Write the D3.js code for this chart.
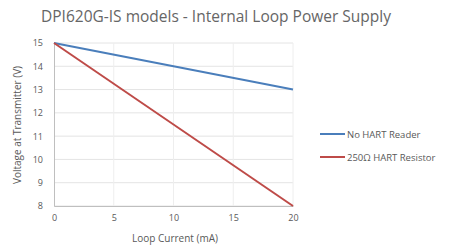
<!DOCTYPE html>
<html>
<head>
<meta charset="utf-8">
<script src="https://cdn.jsdelivr.net/npm/d3@7"></script>
<style>
  body { margin: 0; background: #fff; }
  text { font-family: "Open Sans", "Noto Sans", sans-serif; fill: #595959; }
</style>
</head>
<body>
<svg id="chart" width="454" height="246"></svg>
<script>
var current = [0, 20];
var noHart = [15, 13];
var hartResistor = [15, 8];
var xTicks = [0, 5, 10, 15, 20];
var yTicks = [8, 9, 10, 11, 12, 13, 14, 15];
var seriesNames = ["No HART Reader", "250Ω HART Resistor"];
var colours = ["#4a7ebb", "#be4b48"];

var svg = d3.select("#chart");
var x = d3.scaleLinear().domain([0, 20]).range([54, 293]);
var y = d3.scaleLinear().domain([8, 15]).range([206, 43]);

// grid
svg.append("g").selectAll("line").data(yTicks).enter().append("line")
    .attr("x1", x(0)).attr("x2", x(20))
    .attr("y1", d => y(d)).attr("y2", d => y(d))
    .attr("stroke", "#e4e4e4").attr("stroke-width", 1);
svg.append("g").selectAll("line").data(xTicks.slice(1)).enter().append("line")
    .attr("x1", d => x(d)).attr("x2", d => x(d))
    .attr("y1", y(8)).attr("y2", y(15))
    .attr("stroke", "#eeeeee").attr("stroke-width", 1);

// axes
var xAxis = svg.append("g").attr("transform", "translate(0," + y(8) + ")")
    .call(d3.axisBottom(x).tickValues(xTicks).tickFormat(d3.format("d")).tickSize(0).tickPadding(9));
var yAxis = svg.append("g").attr("transform", "translate(" + x(0) + ",0)")
    .call(d3.axisLeft(y).tickValues(yTicks).tickFormat(d3.format("d")).tickSize(0).tickPadding(11));
[xAxis, yAxis].forEach(a => {
    a.select(".domain").attr("stroke", "#bfbfbf");
    a.selectAll("text").style("font-size", "9px").style("font-family", "Open Sans, sans-serif").attr("fill", "#595959");
});

// lines
var line = d3.line().x((d, i) => x(current[i])).y(d => y(d));
[noHart, hartResistor].forEach((s, i) => {
    svg.append("path").attr("d", line(s))
        .attr("fill", "none").attr("stroke", colours[i]).attr("stroke-width", 2);
});

// legend
seriesNames.forEach((n, i) => {
    var ly = 134 + i * 23;
    svg.append("line").attr("x1", 320).attr("x2", 345).attr("y1", ly).attr("y2", ly)
        .attr("stroke", colours[i]).attr("stroke-width", 2);
    svg.append("text").attr("x", 347).attr("y", ly + 3.5)
        .style("font-size", "9.5px").text(n);
});

// titles
svg.append("text").attr("x", 216).attr("y", 22).attr("text-anchor", "middle")
    .style("font-size", "15.5px").style("fill", "#666").text("DPI620G-IS models - Internal Loop Power Supply");
svg.append("text").attr("x", 175).attr("y", 242).attr("text-anchor", "middle")
    .style("font-size", "10px").text("Loop Current (mA)");
svg.append("text").attr("transform", "translate(21,125) rotate(-90)").attr("text-anchor", "middle")
    .style("font-size", "10px").text("Voltage at Transmitter (V)");
</script>
</body>
</html>
